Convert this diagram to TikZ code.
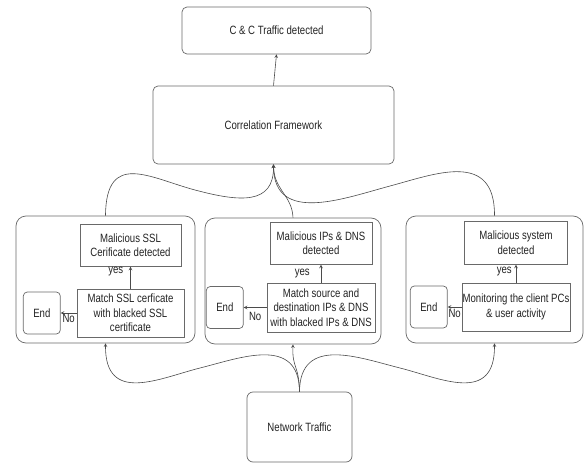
\documentclass[tikz,border=0pt]{standalone}
\usepackage{fontspec}
\setmainfont{Liberation Sans}[FakeStretch=0.8]
\usepackage{tikz}
\usetikzlibrary{positioning,arrows}
\definecolor{boxgray}{RGB}{105,105,105}
\definecolor{linegray}{RGB}{75,75,75}
\definecolor{txtgray}{RGB}{35,35,35}

\begin{document}
\begin{tikzpicture}[x=1pt,y=-1pt,font=\fontsize{12}{14.5}\selectfont,text=txtgray,
    rbox/.style={draw=boxgray, line width=0.7pt, rounded corners=5pt, inner sep=0pt, align=center},
    panel/.style={draw=boxgray, line width=0.7pt, rounded corners=10pt, inner sep=0pt},
    chk/.style={draw=boxgray, line width=0.7pt, inner sep=0pt, align=center},
    endbox/.style={draw=boxgray, line width=0.7pt, rounded corners=4pt, inner sep=0pt, minimum width=37pt, minimum height=42pt},
    lbl/.style={inner sep=1pt},
    flow/.style={draw=linegray, line width=0.6pt, -stealth}]
    \useasboundingbox (0,0) rectangle (584,463);

    %% top of the chart
     \node (cc) at (276.5,30.5) [rbox, minimum width=189pt, minimum height=47pt] {C \& C Traffic detected};
     \node (corr) at (273.5,125) [rbox, minimum width=241pt, minimum height=78pt] {Correlation Framework};
     \draw[flow] (corr.north) -- (cc.south);

    %% the three panels
     \node (lp) at (105.5,279.5) [panel, minimum width=179pt, minimum height=127pt] {};
     \node (mp) at (293,281) [panel, minimum width=176pt, minimum height=126pt] {};
     \node (rp) at (494.5,279.5) [panel, minimum width=177pt, minimum height=127pt] {};

    %% left panel, SSL
     \node (lmatch) at (130.5,313) [chk, minimum width=107pt, minimum height=48pt] {Match SSL cerficate\\with blacked SSL\\certificate};
     \node (lmal) [above=22pt of lmatch, chk, minimum width=101pt, minimum height=42pt] {Malicious SSL\\Cerificate detected};
     \node (lend) [left=16pt of lmatch, endbox] {End};
     \draw[flow] (lmatch.north) -- node[lbl, pos=.77, left=6pt] {yes} (lmatch.north |- lmal.south);
     \draw[flow] (lmatch) -- node[lbl, below=0pt] {No} (lend);

    %% middle panel, IPs & DNS
     \node (mmatch) at (321,307.5) [chk, minimum width=108pt, minimum height=49pt] {Match source and\\destination IPs \& DNS\\with blacked IPs \& DNS};
     \node (mmal) [above=18pt of mmatch, chk, minimum width=102pt, minimum height=42pt] {Malicious IPs \& DNS\\detected};
     \node (mend) [left=23pt of mmatch, endbox] {End};
     \draw[flow] (mmatch.north) -- node[lbl, pos=.5, left=10pt] {yes} (mmatch.north |- mmal.south);
     \draw[flow] (mmatch) -- node[lbl, below=3pt] {No} (mend);

    %% right panel, client PCs
     \node (rmon) at (516,307) [chk, minimum width=108pt, minimum height=48pt] {Monitoring the client PCs\\\& user activity};
     \node (rmal) [above=18pt of rmon, chk, minimum width=103pt, minimum height=43pt] {Malicious system\\detected};
     \node (rend) [left=14pt of rmon, endbox] {End};
     \draw[flow] (rmon.north) -- node[lbl, pos=.6, left=3pt] {yes} (rmon.north |- rmal.south);
     \draw[flow] (rmon) -- node[lbl, below=1pt] {No} (rend);

    %% panels up to the framework
     \draw[flow] (lp.north) .. controls (106,150) and (150,178) .. (195,190) .. controls (240,202) and (274,205) .. (corr.south);
     \draw[flow] (mp.north) .. controls (292,195) and (274,190) .. (corr.south);
     \draw[flow] (rp.north) .. controls (495,150) and (435,174) .. (390,186) .. controls (345,198) and (274,225) .. (corr.south);

    %% traffic into the panels
     \node (net) at (299.5,427) [rbox, rounded corners=6pt, minimum width=105pt, minimum height=70pt] {Network Traffic};
     \draw[flow] (net.north) .. controls (299,365) and (292,368) .. (mp.south);
     \draw[flow] (net.north) .. controls (299,335) and (240,358) .. (200,368) .. controls (160,378) and (105,405) .. (lp.south);
     \draw[flow] (net.north) .. controls (300,335) and (360,358) .. (400,368) .. controls (440,378) and (495,405) .. (rp.south);

    \end{tikzpicture}
\end{document}
